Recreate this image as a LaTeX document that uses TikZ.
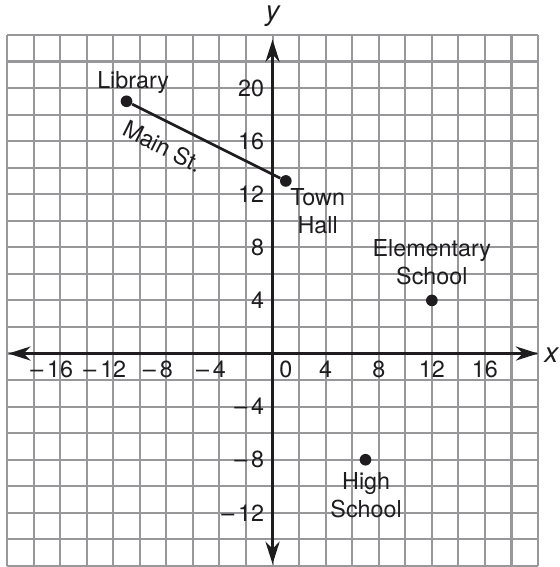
\documentclass[tikz,border=0pt]{standalone}
\usepackage{fontspec}
\setmainfont{TeX Gyre Heros}
\usetikzlibrary{arrows.meta}
\definecolor{gridgray}{RGB}{152,152,155}
\definecolor{ink}{RGB}{30,28,30}
\begin{document}
\begin{tikzpicture}[x=0.2cm,y=0.2cm,
  gridline/.style={draw=gridgray,line width=0.9pt},
  axis/.style={draw=ink,line width=1.4pt,{Stealth[length=9.5pt,width=6pt,inset=3pt]}-{Stealth[length=9.5pt,width=6pt,inset=3pt]}},
  dot/.style={circle,fill=ink,inner sep=0pt,minimum size=5pt},
  road/.style={draw=ink,line width=1.15pt},
  lbl/.style={font=\fontsize{10}{12}\selectfont,text=ink,align=center,inner sep=0pt},
  ticklbl/.style={font=\fontsize{10}{12}\selectfont,text=ink,inner sep=0pt},
  axlbl/.style={font=\fontsize{12}{14}\selectfont\itshape,text=ink,inner sep=0pt}]
\useasboundingbox (-20.53,-16.08) rectangle (21.65,26.63);
% grid
\foreach \i in {-20,-18,...,20} \draw[gridline] (\i,-16) -- (\i,24);
\foreach \j in {-16,-14,...,24} \draw[gridline] (-20,\j) -- (20,\j);
% axes
\coordinate (xl) at (-19.9,0);
\coordinate (xr) at (20,0);
\coordinate (yb) at (0,-15.85);
\coordinate (yt) at (0,23.65);
\draw[axis] (xl) -- (xr);
\draw[axis] (yb) -- (yt);
\node[axlbl,anchor=base] (xlab) at (21.0,-0.68) {x};
\node[axlbl,anchor=base] (ylab) at (0,25.1) {y};
% tick labels
\foreach \v/\n in {-16/xm16,-12/xm12,-8/xm8,-4/xm4}
  \node[ticklbl,anchor=base] (\n) at (\v,-1.8) {\llap{–\,}\the\numexpr-\v\relax};
\foreach \v/\n in {4/xp4,8/xp8,12/xp12,16/xp16}
  \node[ticklbl,anchor=base] (\n) at (\v,-1.8) {\v};
\node[ticklbl,anchor=base] (xzero) at (1.0,-1.8) {0};
\foreach \v/\n in {4/yp4,8/yp8,12/yp12,16/yp16,20/yp20}
  \node[ticklbl,anchor=east] (\n) at (-0.6,\v) {\v};
\foreach \v/\n in {-4/ym4,-8/ym8,-12/ym12}
  \node[ticklbl,anchor=east] (\n) at (-0.6,\v) {–\,\the\numexpr-\v\relax};
% points
\node[dot] (lib) at (-11,19) {};
\node[dot] (town) at (1,13) {};
\node[dot] (elem) at (12,4) {};
\node[dot] (high) at (7,-8) {};
\draw[road] (lib) -- (town);
% labels
\node[lbl,anchor=base] (libl) at (-10.5,20) {Library};
\node[lbl,rotate=-26.57] (mainst) at (-8.25,15.6) {Main St.};
\node[lbl] (townl) at (3.4,10.7) {Town\\Hall};
\node[lbl] (eleml) at (12,6.86) {Elementary\\School};
\node[lbl] (highl) at (7.05,-10.7) {High\\School};
\end{tikzpicture}
\end{document}
